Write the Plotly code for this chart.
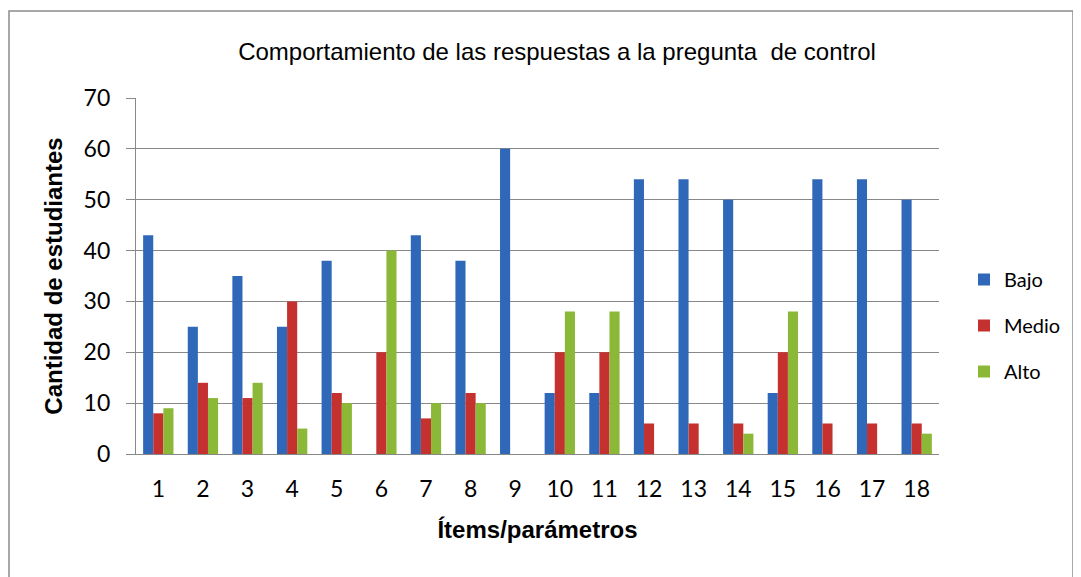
import plotly.graph_objects as go

categories = [str(i) for i in range(1, 19)]
bajo = [43, 25, 35, 25, 38, 0, 43, 38, 60, 12, 12, 54, 54, 50, 12, 54, 54, 50]
medio = [8, 14, 11, 30, 12, 20, 7, 12, 0, 20, 20, 6, 6, 6, 20, 6, 6, 6]
alto = [9, 11, 14, 5, 10, 40, 10, 10, 0, 28, 28, 0, 0, 4, 28, 0, 0, 4]
y_ticks = [0, 10, 20, 30, 40, 50, 60, 70]

series = [
    ("Bajo", bajo, "#2f68b8"),
    ("Medio", medio, "#c4312f"),
    ("Alto", alto, "#8cb838"),
]

# page has an 8px body margin; figure coordinates below are page - 8
W, H = 1073, 569
L, R, T, B = 128, 931, 90, 446

fig = go.Figure()
for name, vals, col in series:
    fig.add_trace(go.Bar(
        x=categories, y=vals, name=name, legendgroup=name,
        marker=dict(color=col, line=dict(width=0)),
    ))

def px_to_paper_x(px):
    return (px - L) / (R - L)

def px_to_paper_y(py):
    return (B - py) / (B - T)

fig.update_layout(
    width=W, height=H,
    margin=dict(l=L, r=W - R, t=T, b=H - B, autoexpand=False),
    paper_bgcolor="white", plot_bgcolor="white",
    barmode="group", bargap=0.32, bargroupgap=0,
    title=dict(text="Comportamiento de las respuestas a la pregunta  de control",
               font=dict(family="Liberation Sans", size=24, color="#000"),
               x=549 / W, xanchor="center", y=1 - 44 / H, yanchor="middle"),
    legend=dict(x=(956 - L) / (R - L), y=px_to_paper_y(252), xanchor="left", yanchor="top",
                font=dict(family="Lato", size=20, color="#000"),
                tracegroupgap=17, itemwidth=30, bgcolor="rgba(0,0,0,0)"),
    xaxis=dict(
        tickfont=dict(family="Lato", size=23, color="#000"),
        ticklabelstandoff=14,
        title=dict(text="<b>Ítems/parámetros</b>",
                   font=dict(family="Liberation Sans", size=24, color="#000"),
                   standoff=20),
        showline=True, linecolor="#888", linewidth=1.3, ticks="", showgrid=False,
        zeroline=False,
    ),
    yaxis=dict(
        range=[0, 70], tickvals=y_ticks,
        tickfont=dict(family="Lato", size=23, color="#000"),
        ticklabelstandoff=11,
        title=dict(text="<b>Cantidad de estudiantes</b>",
                   font=dict(family="Liberation Sans", size=24, color="#000"), standoff=14),
        showline=True, linecolor="#888", linewidth=1.3,
        ticks="outside", ticklen=9, tickcolor="#888", tickwidth=1.3,
        showgrid=True, gridcolor="#888", gridwidth=1.2, zeroline=False,
    ),
    showlegend=True,
)

fig.add_shape(type="rect", xref="paper", yref="paper",
              x0=px_to_paper_x(1), x1=px_to_paper_x(1065),
              y0=px_to_paper_y(575), y1=px_to_paper_y(3),
              line=dict(color="#8c8c8c", width=1.5), fillcolor="rgba(0,0,0,0)", layer="below")

fig.write_html("out.html")
